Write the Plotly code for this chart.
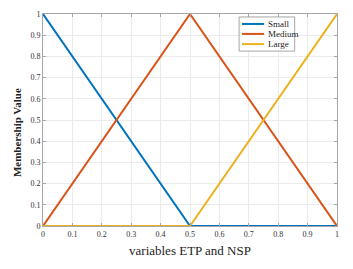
import plotly.graph_objects as go

x_vals = [0, 0.5, 1]
small = [1, 0, 0]
medium = [0, 1, 0]
large = [0, 0, 1]
names = ["Small", "Medium", "Large"]
colors = ["#0072BD", "#D95319", "#EDB120"]
tick_vals = [i / 10 for i in range(11)]
tick_text = ["0", "0.1", "0.2", "0.3", "0.4", "0.5", "0.6", "0.7", "0.8", "0.9", "1"]

fig = go.Figure()
for name, ys, c in zip(names, [small, medium, large], colors):
    fig.add_trace(go.Scatter(x=x_vals, y=ys, mode="lines", name=name,
                             line=dict(color=c, width=2), showlegend=False))

axis_common = dict(
    tickvals=tick_vals, ticktext=tick_text, range=[0, 1],
    showgrid=True, gridcolor="#EBEBEB", gridwidth=1,
    showline=True, linecolor="#A6A6A6", linewidth=1, mirror="ticks",
    ticks="inside", ticklen=3, tickcolor="#A6A6A6",
    zeroline=False, automargin=False,
    tickfont=dict(family="Liberation Serif", size=8, color="#333333"),
)

fig.update_layout(
    width=345, height=261,
    margin=dict(l=35, r=16, t=6, b=43),
    paper_bgcolor="white", plot_bgcolor="white",
    xaxis=dict(**axis_common,
               title=dict(text="variables ETP and NSP", standoff=8,
                          font=dict(family="Liberation Serif", size=13, color="#222222"))),
    yaxis=dict(**axis_common),
    showlegend=False,
)

# Y axis title (placed slightly below centre, as in the reference)
fig.add_annotation(xref="paper", yref="paper", x=-0.088, y=0.439,
                   text="<b>Membership Value</b>", textangle=-90, showarrow=False,
                   xanchor="center", yanchor="middle",
                   font=dict(family="Liberation Serif", size=11, color="#222222"))

# Manual compact legend box
fig.add_shape(type="rect", xref="paper", yref="paper",
              x0=0.667, x1=0.856, y0=0.825, y1=0.986,
              line=dict(color="#A6A6A6", width=1), fillcolor="white", layer="above")
row_y = [0.953, 0.906, 0.858]
for name, c, yy in zip(names, colors, row_y):
    fig.add_shape(type="line", xref="paper", yref="paper",
                  x0=0.677, x1=0.752, y0=yy, y1=yy,
                  line=dict(color=c, width=2), layer="above")
    fig.add_annotation(xref="paper", yref="paper", x=0.757, y=yy,
                       text=name, showarrow=False, xanchor="left", yanchor="middle",
                       font=dict(family="Liberation Serif", size=9, color="#222222"))

fig.write_html("out.html")
